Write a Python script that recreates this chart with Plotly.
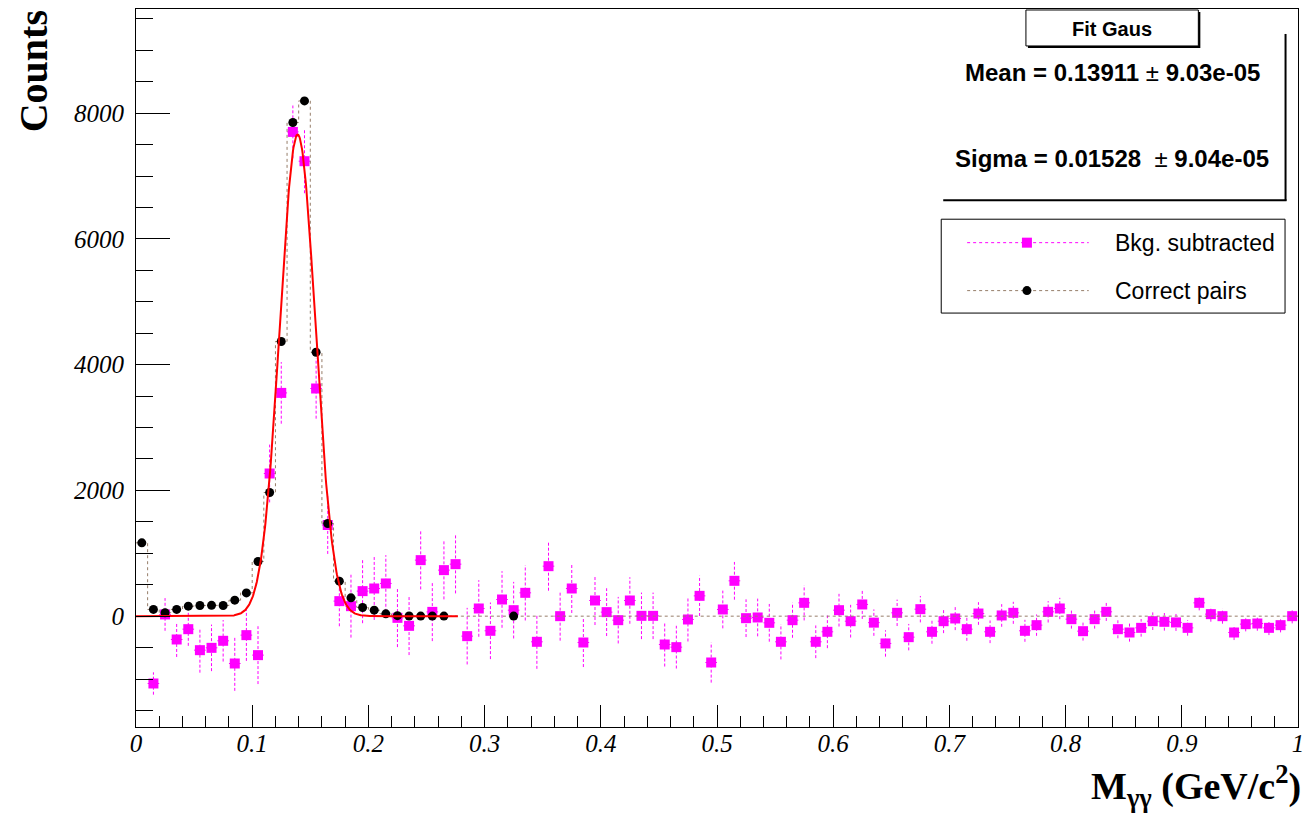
import numpy as np
import plotly.graph_objects as go

# ---- binning: 100 bins of 10 MeV between 0 and 1 GeV/c^2 ----
n_bins = 100
bin_width = 0.01
bin_low = np.arange(n_bins) * bin_width
bin_centres = bin_low + bin_width / 2
bin_edges = np.append(bin_low, 1.0)

# ---- background-subtracted di-photon mass spectrum ----
bkg_subtracted = [
    None, -1071, 27, -371, -207, -541, -504, -392, -753, -302,
    -620, 2269, 3551, 7702, 7236, 3621, 1450, 239, 159, 398,
    440, 520, -27, -154, 891, 68, 732, 827, -318, 122,
    -233, 265, 95, 371, -408, 795, 0, 440, -419, 249,
    64, -64, 249, 5, 5, -451, -493, -53, 323, -737,
    106, 562, -32, -21, -106, -408, -64, 212, -408, -249,
    95, -80, 186, -103, -434, 53, -334, 111, -249, -80,
    -37, -207, 42, -249, 11, 53, -233, -143, 69, 122,
    -48, -239, -48, 69, -207, -260, -186, -80, -90, -100,
    -186, 212, 32, 0, -260, -127, -117, -186, -143, 0,
]
bkg_subtracted_err = [
    0, 178, 260, 278, 265, 358, 370, 330, 435, 410,
    460, 460, 490, 420, 510, 480, 460, 400, 500, 510,
    500, 450, 465, 465, 465, 465, 465, 465, 450, 450,
    450, 450, 450, 440, 430, 390, 390, 390, 390, 390,
    380, 370, 370, 370, 370, 350, 340, 350, 320, 320,
    300, 300, 300, 300, 300, 280, 280, 280, 260, 260,
    260, 260, 230, 210, 210, 210, 210, 210, 190, 190,
    185, 185, 180, 180, 180, 175, 175, 170, 170, 170,
    150, 150, 150, 145, 145, 145, 140, 140, 140, 135,
    125, 120, 120, 120, 120, 115, 115, 115, 115, 115,
]

# ---- true (correctly paired) photon pairs ----
correct_pairs = [
    1166, 107, 55, 107, 159, 170, 172, 170, 254, 370,
    870, 1967, 4369, 7851, 8195, 4198, 1474, 557, 291, 138,
    95, 37, 8, 2, 1, 1, 1, 0, 0, 0,
    0, 0, 1, 0, 0, 0, 0, 0, 0, 0,
] + [0] * 60

# ---- Gaussian fit result ----
fit_mean, fit_mean_err = 0.13911, 9.03e-05
fit_sigma, fit_sigma_err = 0.01528, 9.04e-05
fit_constant = 7660
fit_range = (0.0, 0.277)

# ---- styling ----
MAGENTA = "#ff00ff"
STEP_GREY = "rgb(150,125,105)"
SERIF = "Liberation Serif"
SANS = "Liberation Sans"

# plot frame in pixels (left, right, top, bottom)
W, H = 1312, 816
FX0, FX1, FY0, FY1 = 136, 1302, 8, 727


def px(xp):
    return (xp - FX0) / (FX1 - FX0)


def py(yp):
    return (FY1 - yp) / (FY1 - FY0)


fig = go.Figure()

# vertical (dotted) error bars of the subtracted spectrum
ex, ey = [], []
for xc, v, e in zip(bin_centres, bkg_subtracted, bkg_subtracted_err):
    if v is None:
        continue
    ex += [xc, xc, None]
    ey += [v - e, v + e, None]
fig.add_trace(go.Scatter(
    x=ex, y=ey, mode="lines", hoverinfo="skip", showlegend=False,
    line=dict(color=MAGENTA, width=1, dash="3px,2px"),
))

# subtracted spectrum markers with horizontal bin-width bars
mask = [v is not None for v in bkg_subtracted]
fig.add_trace(go.Scatter(
    x=bin_centres[mask], y=[v for v in bkg_subtracted if v is not None],
    mode="markers", name="Bkg. subtracted", showlegend=False,
    marker=dict(symbol="square", size=10, color=MAGENTA),
    error_x=dict(type="constant", value=bin_width / 2, color=MAGENTA,
                 thickness=1, width=0),
))

# correct-pairs histogram outline (dotted steps)
fig.add_trace(go.Scatter(
    x=bin_edges, y=correct_pairs + [correct_pairs[-1]], mode="lines",
    line=dict(color=STEP_GREY, width=1, dash="dot", shape="hv"),
    hoverinfo="skip", showlegend=False,
))
cp = np.array(correct_pairs)
filled = cp > 0
fig.add_trace(go.Scatter(
    x=bin_centres[filled], y=cp[filled], mode="markers",
    name="Correct pairs", showlegend=False,
    marker=dict(symbol="circle", size=9, color="black"),
))

# Gaussian fit curve
xf = np.linspace(fit_range[0], fit_range[1], 600)
yf = fit_constant * np.exp(-0.5 * ((xf - fit_mean) / fit_sigma) ** 2)
fig.add_trace(go.Scatter(
    x=xf, y=yf, mode="lines", line=dict(color="red", width=2),
    hoverinfo="skip", showlegend=False,
))

# ---- legend samples on a pixel-scaled overlay axis ----
leg_y = [242, 290]
fig.add_trace(go.Scatter(
    x=[970, 1092], y=[leg_y[0]] * 2, xaxis="x2", yaxis="y2", mode="lines",
    line=dict(color=MAGENTA, width=1, dash="dot"), hoverinfo="skip",
    showlegend=False,
))
fig.add_trace(go.Scatter(
    x=[1030], y=[leg_y[0]], xaxis="x2", yaxis="y2", mode="markers",
    marker=dict(symbol="square", size=10, color=MAGENTA), hoverinfo="skip",
    showlegend=False,
))
fig.add_trace(go.Scatter(
    x=[970, 1092], y=[leg_y[1]] * 2, xaxis="x2", yaxis="y2", mode="lines",
    line=dict(color=STEP_GREY, width=1, dash="dot"), hoverinfo="skip",
    showlegend=False,
))
fig.add_trace(go.Scatter(
    x=[1030], y=[leg_y[1]], xaxis="x2", yaxis="y2", mode="markers",
    marker=dict(symbol="circle", size=9, color="black"), hoverinfo="skip",
    showlegend=False,
))

shapes = []
# fit-statistics panel: shadowed title box and panel shadow edges
shapes.append(dict(type="rect", xref="paper", yref="paper",
                   x0=px(1031), x1=px(1204), y0=py(47), y1=py(11),
                   fillcolor="black", line=dict(width=0), layer="above"))
shapes.append(dict(type="rect", xref="paper", yref="paper",
                   x0=px(1029), x1=px(1202), y0=py(45), y1=py(9),
                   fillcolor="white", line=dict(color="black", width=1),
                   layer="above"))
shapes.append(dict(type="line", xref="paper", yref="paper",
                   x0=px(1289.5), x1=px(1289.5), y0=py(33), y1=py(200),
                   line=dict(color="black", width=2), layer="above"))
shapes.append(dict(type="line", xref="paper", yref="paper",
                   x0=px(946), x1=px(1290.5), y0=py(199.5), y1=py(199.5),
                   line=dict(color="black", width=2), layer="above"))
# legend frame
shapes.append(dict(type="rect", xref="paper", yref="paper",
                   x0=px(944), x1=px(1289), y0=py(312.5), y1=py(218.5),
                   line=dict(color="black", width=1), layer="below",
                   fillcolor="white"))

annotations = [
    dict(text="<b>Fit Gaus</b>", x=px(1115.5), y=py(28), xref="paper",
         yref="paper", showarrow=False, xanchor="center", yanchor="middle",
         font=dict(family=SANS, size=20, color="black")),
    dict(text=f"<b>Mean = {fit_mean:.5f}</b> \u00b1 <b>{fit_mean_err:.2e}</b>",
         x=px(1115.5), y=py(72), xref="paper", yref="paper", showarrow=False,
         xanchor="center", yanchor="middle",
         font=dict(family=SANS, size=24, color="black")),
    dict(text=f"<b>Sigma = {fit_sigma:.5f}</b>  \u00b1 <b>{fit_sigma_err:.2e}</b>",
         x=px(1115.5), y=py(158), xref="paper", yref="paper", showarrow=False,
         xanchor="center", yanchor="middle",
         font=dict(family=SANS, size=24, color="black")),
    dict(text="Bkg. subtracted", x=px(1116), y=py(leg_y[0]), xref="paper",
         yref="paper", showarrow=False, xanchor="left", yanchor="middle",
         font=dict(family=SANS, size=23, color="black")),
    dict(text="Correct pairs", x=px(1116), y=py(leg_y[1]), xref="paper",
         yref="paper", showarrow=False, xanchor="left", yanchor="middle",
         font=dict(family=SANS, size=23, color="black")),
    dict(text="<b>Counts</b>", x=px(34), y=py(70), xref="paper",
         yref="paper", showarrow=False, textangle=-90, xanchor="center",
         yanchor="middle", font=dict(family=SERIF, size=40, color="black")),
    dict(text="<b>M<sub>\u03b3\u03b3</sub> (GeV/c<sup>2</sup>)</b>",
         x=px(1307), y=py(786), xref="paper", yref="paper", showarrow=False,
         xanchor="right", yanchor="middle",
         font=dict(family=SERIF, size=38, color="black")),
]

tickfont = dict(family=SERIF, size=25, color="black", style="italic")
fig.update_layout(
    width=W, height=H,
    margin=dict(l=FX0, r=W - FX1, t=FY0, b=H - FY1, pad=0),
    paper_bgcolor="white", plot_bgcolor="white",
    showlegend=False,
    xaxis=dict(
        range=[0, 1], dtick=0.1, tick0=0, showgrid=False, zeroline=False,
        showline=True, linecolor="black", linewidth=1, mirror=True,
        ticks="inside", ticklen=22, tickcolor="black", tickwidth=1,
        minor=dict(dtick=0.02, ticks="inside", ticklen=11,
                   tickcolor="black", tickwidth=1),
        tickfont=tickfont, ticklabelstandoff=-6,
    ),
    yaxis=dict(
        range=[-1763, 9657], dtick=2000, tick0=0, showgrid=False,
        zeroline=False, showline=True, linecolor="black", linewidth=1,
        mirror=True, ticks="inside", ticklen=34, tickcolor="black",
        tickwidth=1,
        minor=dict(dtick=500, ticks="inside", ticklen=17,
                   tickcolor="black", tickwidth=1),
        tickfont=tickfont, ticklabelstandoff=6,
    ),
    xaxis2=dict(range=[FX0, FX1], overlaying="x", visible=False),
    yaxis2=dict(range=[FY1, FY0], overlaying="y", visible=False),
    shapes=shapes,
    annotations=annotations,
)

fig.write_html("out.html")
